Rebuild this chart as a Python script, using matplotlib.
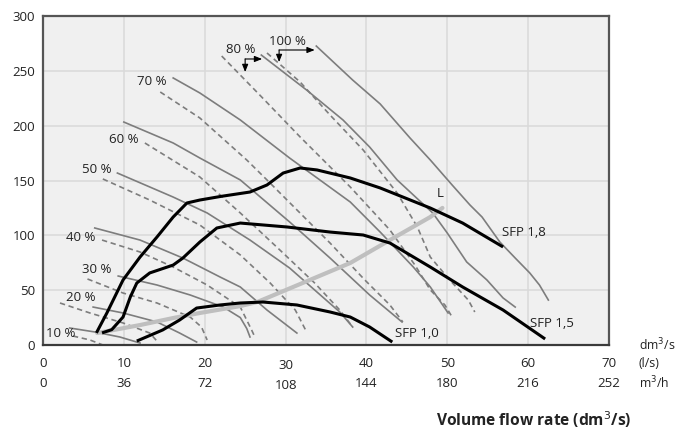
import matplotlib
matplotlib.use("Agg")
import matplotlib.pyplot as plt

plt.rcParams['font.family'] = ['Open Sans', 'DejaVu Sans']

# ---- fan curves, solid line per speed setting (x: dm3/s, y: Pa) ----
s10_x = [3.3, 6.4, 9.5, 12.0]
s10_y = [15.5, 11.9, 7.3, 1.8]
s20_x = [6.2, 9.9, 14.1, 16.9, 19.0]
s20_y = [34.6, 29.2, 21.0, 10.9, 2.7]
s30_x = [9.3, 14.1, 18.2, 22.3, 24.4, 25.2, 25.6]
s30_y = [62.9, 54.7, 45.6, 34.6, 25.0, 15.0, 7.3]
s40_x = [6.4, 12.0, 17.3, 21.9, 24.4, 27.7, 31.4]
s40_y = [106.7, 95.7, 79.3, 62.0, 52.9, 31.9, 10.9]
s50_x = [9.2, 16.1, 20.3, 25.6, 30.5, 34.3, 36.7, 38.3]
s50_y = [156.8, 134.9, 120.4, 95.7, 70.2, 45.6, 30.1, 16.4]
s60_x = [10.0, 16.1, 19.4, 24.4, 30.5, 35.5, 40.4, 44.4]
s60_y = [203.3, 184.2, 170.5, 150.5, 112.2, 79.3, 45.6, 21.0]
s70_x = [16.1, 19.4, 24.4, 30.5, 38.0, 41.7, 45.8, 47.9, 50.1]
s70_y = [243.5, 229.8, 205.2, 170.5, 130.4, 103.0, 71.1, 52.9, 29.2]
s80_x = [27.0, 32.6, 37.1, 40.4, 43.8, 48.2, 50.0, 52.4, 54.9, 56.9, 58.4]
s80_y = [264.4, 232.5, 205.2, 180.5, 150.5, 120.4, 102.1, 75.7, 59.3, 42.9, 34.6]
s100_x = [33.8, 38.3, 41.7, 45.4, 47.9, 50.6, 52.8, 54.3, 56.5, 58.4, 60.2, 61.4, 62.5]
s100_y = [272.6, 241.6, 219.8, 188.7, 168.7, 145.9, 127.7, 116.7, 93.9, 79.3, 65.7, 54.7, 41.0]

# ---- fan curves, dashed line per speed setting ----
d10_x = [3.7, 5.8, 7.4]
d10_y = [8.2, 4.6, 0.0]
d20_x = [2.1, 5.8, 9.9, 13.2, 14.2]
d20_y = [38.3, 29.2, 20.1, 10.9, 2.7]
d30_x = [5.5, 9.9, 14.1, 18.2, 19.6, 20.3]
d30_y = [60.2, 47.4, 38.3, 25.5, 16.4, 4.6]
d40_x = [7.3, 12.0, 16.1, 20.3, 24.4, 25.8, 26.2]
d40_y = [95.7, 84.8, 71.1, 54.7, 34.6, 13.7, 7.3]
d50_x = [7.4, 13.2, 19.4, 24.4, 28.1, 31.2, 32.6]
d50_y = [151.4, 132.2, 109.4, 82.1, 56.5, 31.9, 11.9]
d60_x = [12.6, 19.4, 24.4, 29.3, 33.6, 36.7, 38.3]
d60_y = [184.2, 153.2, 120.4, 86.6, 56.5, 31.9, 16.4]
d70_x = [14.5, 19.4, 25.2, 27.7, 35.5, 39.8, 42.9, 44.5]
d70_y = [230.7, 207.0, 168.7, 150.5, 93.0, 59.3, 36.5, 21.0]
d80_x = [22.1, 26.8, 31.8, 38.0, 42.9, 46.0, 47.9, 49.7, 50.6]
d80_y = [263.5, 228.0, 189.7, 144.1, 104.9, 72.9, 50.2, 36.5, 25.5]
d100_x = [27.7, 31.8, 35.5, 39.6, 43.8, 46.3, 47.9, 50.3, 52.6, 53.4]
d100_y = [266.3, 239.8, 209.7, 177.8, 138.6, 107.6, 80.2, 59.3, 41.0, 30.1]

# ---- specific fan power limits ----
sfp18_x = [6.6, 7.9, 9.9, 12.0, 14.1, 16.1, 17.8, 19.4, 22.0, 25.6, 27.7, 29.7,
           31.8, 33.9, 38.0, 41.7, 47.9, 51.9, 56.9]
sfp18_y = [11.0, 29.2, 59.3, 80.2, 98.5, 116.7, 129.5, 132.2, 135.5, 139.5, 145.9,
           156.8, 161.4, 159.6, 152.3, 143.2, 124.9, 111.2, 89.4]
sfp15_x = [7.3, 8.5, 9.9, 10.8, 11.6, 13.2, 16.1, 17.3, 19.4, 21.5, 24.4, 30.2,
           35.5, 39.6, 42.9, 47.9, 51.9, 56.9, 62.1]
sfp15_y = [11.0, 14.0, 25.5, 43.8, 56.5, 65.7, 72.9, 79.3, 93.9, 106.7, 111.2,
           107.6, 103.0, 100.3, 93.0, 71.1, 52.9, 31.9, 5.5]
sfp10_x = [11.6, 14.8, 16.9, 19.0, 21.9, 24.4, 27.2, 31.4, 35.5, 38.0, 40.4, 43.2]
sfp10_y = [3.6, 13.7, 22.8, 33.7, 36.5, 38.3, 39.2, 36.5, 30.1, 25.5, 16.4, 2.7]

# ---- system curve L ----
l_x = [6.7, 12.0, 16.1, 19.4, 24.4, 26.5, 33.0, 38.0, 42.9, 47.9, 49.4]
l_y = [10.9, 18.2, 24.6, 29.2, 35.5, 39.2, 59.3, 74.8, 95.7, 116.7, 125.0]

# ---- speed labels: text, x, y ----
pct_labels = ["10 %", "20 %", "30 %", "40 %", "50 %", "60 %", "70 %", "80 %", "100 %"]
pct_x = [2.2, 4.7, 6.7, 4.7, 6.7, 10.0, 13.5, 24.5, 30.2]
pct_y = [10.9, 42.9, 69.3, 97.6, 159.6, 187.8, 240.7, 269.9, 276.3]

# ---- axis tick labels ----
flow_ticks = [0, 10, 20, 30, 40, 50, 60, 70]
m3h_labels = ["0", "36", "72", "108", "144", "180", "216", "252"]
pressure_ticks = [0, 50, 100, 150, 200, 250, 300]

GRAY = "#7d7d7d"
TXT = "#222222"
FS = 9.5
fig = plt.figure(figsize=(6.77, 4.30), dpi=100)
ax = fig.add_axes([43 / 677, 85 / 430, 566 / 677, 329 / 430])
ax.set_facecolor("#f0f0f0")
ax.set_xlim(0, 70)
ax.set_ylim(0, 300)

for v in flow_ticks[1:-1]:
    ax.axvline(v, color="#d9d9d9", lw=1.1, zorder=0)
for v in pressure_ticks[1:-1]:
    ax.axhline(v, color="#d9d9d9", lw=1.1, zorder=0)

solid = [(s10_x, s10_y), (s20_x, s20_y), (s30_x, s30_y), (s40_x, s40_y),
         (s50_x, s50_y), (s60_x, s60_y), (s70_x, s70_y), (s80_x, s80_y),
         (s100_x, s100_y)]
dashed = [(d10_x, d10_y), (d20_x, d20_y), (d30_x, d30_y), (d40_x, d40_y),
          (d50_x, d50_y), (d60_x, d60_y), (d70_x, d70_y), (d80_x, d80_y),
          (d100_x, d100_y)]
for xs, ys in solid:
    ax.plot(xs, ys, color=GRAY, lw=1.2, solid_joinstyle="round", zorder=2)
for xs, ys in dashed:
    ax.plot(xs, ys, color=GRAY, lw=1.2, dashes=(3.2, 2.2), zorder=2)

ax.plot(l_x, l_y, color="#bfbfbf", lw=3.0, solid_capstyle="round", zorder=3)
for xs, ys in [(sfp18_x, sfp18_y), (sfp15_x, sfp15_y), (sfp10_x, sfp10_y)]:
    ax.plot(xs, ys, color="black", lw=2.2, solid_joinstyle="round",
            solid_capstyle="butt", zorder=4)

for t, x, y in zip(pct_labels, pct_x, pct_y):
    ax.text(x, y, t, fontsize=FS, ha="center", va="center", color=TXT, zorder=5)

# arrows pointing to the 80 % and 100 % curves
arrow_kw = dict(arrowstyle="-|>,head_length=0.45,head_width=0.18", color="black", lw=0.8,
                shrinkA=0, shrinkB=0)
for cx, cy, down_y, right_x in [(25.0, 260.8, 248.9, 27.1), (29.2, 269.0, 258.0, 33.6)]:
    ax.annotate("", xy=(cx, down_y), xytext=(cx, cy), arrowprops=arrow_kw, zorder=5)
    ax.annotate("", xy=(right_x, cy), xytext=(cx, cy), arrowprops=arrow_kw, zorder=5)

ax.text(56.8, 103.0, "SFP 1,8", fontsize=FS, ha="left", va="center", color=TXT)
ax.text(60.2, 20.0, "SFP 1,5", fontsize=FS, ha="left", va="center", color=TXT)
ax.text(43.5, 10.9, "SFP 1,0", fontsize=FS, ha="left", va="center", color=TXT)
ax.text(49.1, 138.6, "L", fontsize=FS, ha="center", va="center", color=TXT)

ax.set_yticks(pressure_ticks)
ax.set_yticklabels([str(v) for v in pressure_ticks], fontsize=FS, color=TXT)
ax.tick_params(axis="y", length=0, pad=5.5)
ax.set_xticks([])

tr = ax.get_xaxis_transform()
for v, m in zip(flow_ticks, m3h_labels):
    dy = 1.5 if v == 30 else 0
    ax.annotate(str(v), xy=(v, 0), xycoords=tr, xytext=(0, -13 - dy),
                textcoords="offset points", ha="center", va="center",
                fontsize=FS, color=TXT, annotation_clip=False)
    ax.annotate(m, xy=(v, 0), xycoords=tr, xytext=(0, -27.4 - dy),
                textcoords="offset points", ha="center", va="center",
                fontsize=FS, color=TXT, annotation_clip=False)

for lbl, off in [("dm$^3$/s", 0), ("(l/s)", -13), ("m$^3$/h", -27.4)]:
    ax.annotate(lbl, xy=(70, 0), xycoords=tr, xytext=(21.3, off),
                textcoords="offset points", ha="left", va="center",
                fontsize=8.8, color=TXT, annotation_clip=False)

for side in ["left", "right", "top", "bottom"]:
    ax.spines[side].set_color("#555555")
    ax.spines[side].set_linewidth(1.6)
ax.spines["bottom"].set_color("#3a3a3a")

fig.text(534 / 677, 1 - 420 / 430, "Volume flow rate (dm$^3$/s)", fontsize=11.2,
         fontweight="bold", ha="center", va="center", color=TXT)

fig.savefig("out.png", dpi=100, facecolor="white")
